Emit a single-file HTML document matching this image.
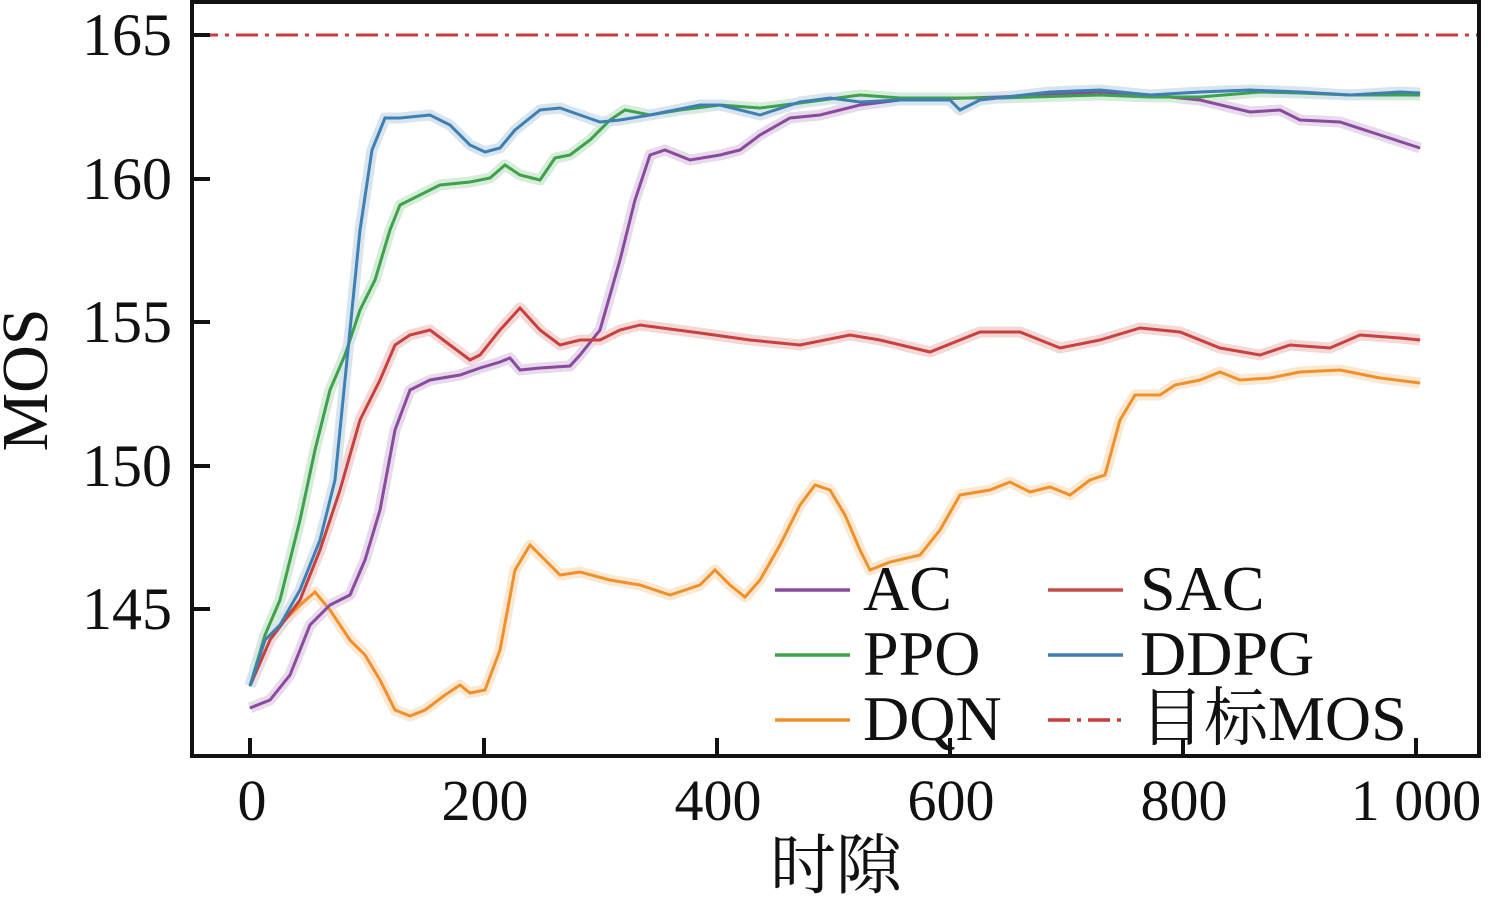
<!DOCTYPE html>
<html><head><meta charset="utf-8"><style>
body{margin:0;background:#fff;}
svg text{font-family:"Liberation Serif","Noto Serif CJK SC",serif;fill:#111;}
</style></head><body>
<svg width="1488" height="897" viewBox="0 0 1488 897" xmlns="http://www.w3.org/2000/svg">
<rect width="1488" height="897" fill="#fff"/>
<g fill="none" stroke-linejoin="round" stroke-linecap="round">
<line x1="196" y1="35" x2="1478" y2="35" stroke="#cc3b3b" stroke-width="3" stroke-dasharray="22,7,4,7" stroke-linecap="butt"/>
<polyline id="dqn" stroke="#f0902a" points="250,686 265,640 280,625 300,605 315,592 330,610 350,640 365,655 380,680 395,710 410,716 425,710 445,695 460,685 470,693 485,690 500,650 515,570 530,545 545,560 560,575 580,572 610,580 640,585 670,595 700,585 715,570 730,585 745,597 760,580 780,545 800,505 815,485 830,490 845,515 860,550 870,570 890,562 920,555 940,530 960,495 990,490 1010,482 1030,492 1050,487 1070,495 1090,480 1105,475 1120,420 1135,395 1160,395 1175,385 1200,380 1220,372 1240,380 1270,378 1300,372 1340,370 1380,378 1420,383"/>
<polyline id="ac" stroke="#8a4a9e" points="250,708 270,700 290,675 310,625 330,605 350,595 365,560 380,510 395,430 410,390 430,380 460,375 480,368 500,362 510,358 520,370 540,368 570,366 580,355 600,330 620,260 635,200 650,155 665,150 690,160 720,155 740,150 760,135 790,118 820,115 860,105 900,100 1000,97 1100,92 1150,95 1200,100 1250,112 1280,110 1300,120 1340,122 1380,135 1420,148"/>
<polyline id="sac" stroke="#c8413f" points="250,686 270,640 300,600 320,550 340,490 360,420 380,380 395,345 410,335 430,330 450,345 470,360 480,355 500,330 520,308 540,330 560,345 580,340 600,340 620,330 640,325 700,333 750,340 800,345 850,335 880,340 930,352 980,332 1020,332 1060,348 1100,340 1140,328 1180,332 1220,348 1260,355 1290,345 1330,348 1360,335 1400,338 1420,340"/>
<polyline id="ppo" stroke="#3da24a" points="250,686 265,635 280,600 300,520 315,450 330,390 345,355 360,310 375,280 390,230 400,205 420,195 440,185 470,182 490,178 505,165 520,175 540,180 555,158 570,155 590,140 610,120 625,110 650,115 680,110 720,105 760,108 800,103 860,95 900,98 1000,98 1100,95 1150,97 1200,97 1260,92 1300,93 1350,95 1420,95"/>
<polyline id="ddpg" stroke="#3f7fb2" points="250,686 265,640 280,625 300,590 320,540 335,480 350,330 360,230 372,150 385,118 400,118 430,115 450,125 470,145 485,152 500,148 515,130 540,110 560,108 580,115 600,122 620,120 650,115 700,105 720,105 760,115 800,102 830,98 860,102 900,100 950,100 960,110 980,100 1050,92 1100,90 1150,95 1200,92 1250,90 1300,92 1350,95 1400,92 1420,93"/>
</g>
<g fill="none" stroke-linejoin="round" stroke-width="11" opacity="0.2">
<use href="#dqn"/><use href="#ac"/><use href="#sac"/><use href="#ppo"/><use href="#ddpg"/>
</g>
<g fill="none" stroke-width="3">
<use href="#dqn"/><use href="#ac"/><use href="#sac"/><use href="#ppo"/><use href="#ddpg"/>
</g>
<rect x="192" y="2" width="1287" height="754" fill="none" stroke="#111" stroke-width="4"/>
<g stroke="#111" stroke-width="4">
<line x1="192" y1="35" x2="210" y2="35"/><line x1="192" y1="179" x2="210" y2="179"/>
<line x1="192" y1="322" x2="210" y2="322"/><line x1="192" y1="466" x2="210" y2="466"/>
<line x1="192" y1="609" x2="210" y2="609"/>
<line x1="250" y1="756" x2="250" y2="738"/><line x1="484" y1="756" x2="484" y2="738"/>
<line x1="717" y1="756" x2="717" y2="738"/><line x1="950" y1="756" x2="950" y2="738"/>
<line x1="1183" y1="756" x2="1183" y2="738"/><line x1="1416" y1="756" x2="1416" y2="738"/>
</g>
<g font-size="60" text-anchor="end">
<text x="172" y="55">165</text><text x="172" y="199">160</text><text x="172" y="342">155</text>
<text x="172" y="486">150</text><text x="172" y="629">145</text>
</g>
<g font-size="58" text-anchor="middle">
<text x="252" y="820">0</text><text x="485" y="820">200</text><text x="718" y="820">400</text>
<text x="951" y="820">600</text><text x="1184" y="820">800</text><text x="1416" y="820">1 000</text>
</g>
<text font-size="66" x="836" y="888" text-anchor="middle">时隙</text>
<text font-size="66" text-anchor="middle" transform="translate(47,380) rotate(-90)">MOS</text>
<g stroke-width="3.5">
<line x1="775" y1="590" x2="850" y2="590" stroke="#8a4a9e"/>
<line x1="775" y1="655" x2="850" y2="655" stroke="#3da24a"/>
<line x1="775" y1="720" x2="850" y2="720" stroke="#f0902a"/>
<line x1="1048" y1="590" x2="1123" y2="590" stroke="#c0504d"/>
<line x1="1048" y1="655" x2="1123" y2="655" stroke="#3f7fb2"/>
<line x1="1048" y1="720" x2="1123" y2="720" stroke="#cc3b3b" stroke-dasharray="22,7,4,7"/>
</g>
<g font-size="64">
<text x="863" y="610">AC</text><text x="863" y="675">PPO</text><text x="863" y="740">DQN</text>
<text x="1140" y="610">SAC</text><text x="1140" y="675">DDPG</text><text x="1140" y="740">目标MOS</text>
</g>
</svg>
</body></html>
